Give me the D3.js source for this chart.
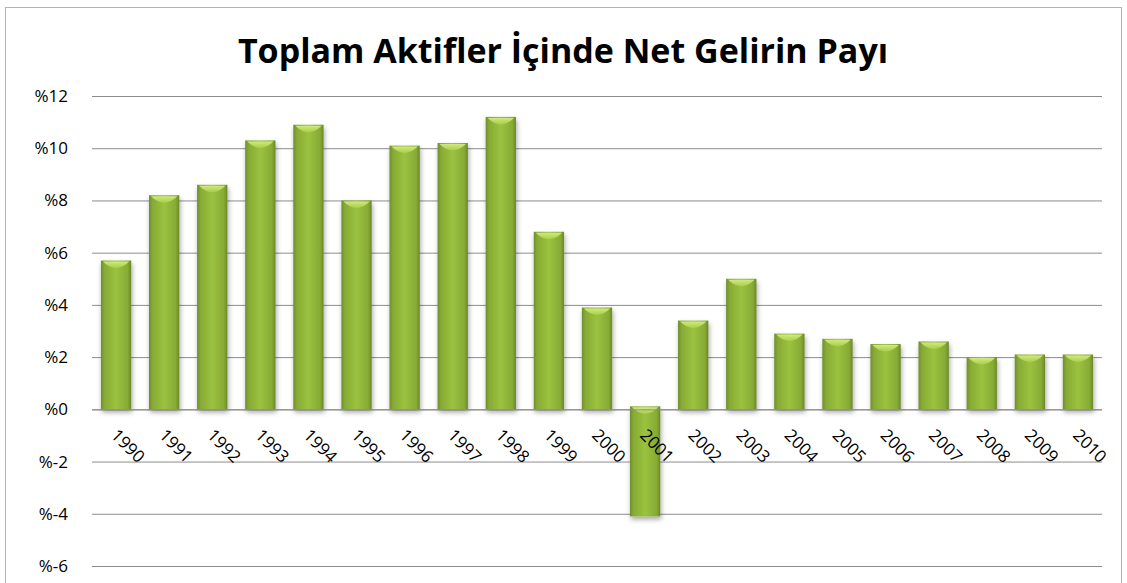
<!DOCTYPE html>
<html>
<head>
<meta charset="utf-8">
<script src="https://cdn.jsdelivr.net/npm/d3@7"></script>
<style>
  body { margin: 0; background: #fff; }
  svg { display: block; }
  .tick text { font-family: "Open Sans", sans-serif; }
</style>
</head>
<body>
<div id="chart"></div>
<script>
var years = ['1990','1991','1992','1993','1994','1995','1996','1997','1998','1999','2000',
             '2001','2002','2003','2004','2005','2006','2007','2008','2009','2010'];
var shares = [5.7, 8.2, 8.6, 10.3, 10.9, 8.0, 10.1, 10.2, 11.2, 6.8, 3.9,
              -4.1, 3.4, 5.0, 2.9, 2.7, 2.5, 2.6, 2.0, 2.1, 2.1];
var yTicks = [-6, -4, -2, 0, 2, 4, 6, 8, 10, 12];
var title = 'Toplam Aktifler İçinde Net Gelirin Payı';

var width = 1127, height = 583;
var margin = {top: 96, right: 25, bottom: 17, left: 92};

var svg = d3.select('#chart').append('svg')
  .attr('width', width)
  .attr('height', height);

// gradients for the bevelled bars
var defs = svg.append('defs');
var grad = defs.append('linearGradient').attr('id', 'barGrad')
  .attr('x1', '0%').attr('x2', '100%').attr('y1', '0%').attr('y2', '0%');
grad.append('stop').attr('offset', '0%').attr('stop-color', '#6f8e2c');
grad.append('stop').attr('offset', '12%').attr('stop-color', '#87ab35');
grad.append('stop').attr('offset', '50%').attr('stop-color', '#9bc23f');
grad.append('stop').attr('offset', '88%').attr('stop-color', '#87ab35');
grad.append('stop').attr('offset', '100%').attr('stop-color', '#6a8829');

var capGrad = defs.append('linearGradient').attr('id', 'capGrad')
  .attr('x1', '0%').attr('x2', '0%').attr('y1', '0%').attr('y2', '100%');
capGrad.append('stop').attr('offset', '0%').attr('stop-color', '#d6ef86');
capGrad.append('stop').attr('offset', '100%').attr('stop-color', '#a8d04a');

var shadow = defs.append('filter').attr('id', 'shadow')
  .attr('x', '-30%').attr('y', '-10%').attr('width', '160%').attr('height', '130%');
shadow.append('feDropShadow').attr('dx', 1).attr('dy', 3)
  .attr('stdDeviation', 2.5).attr('flood-color', '#000').attr('flood-opacity', 0.35);

// outer chart border
svg.append('rect')
  .attr('x', 5.5).attr('y', 7.5)
  .attr('width', 1116).attr('height', 590)
  .attr('fill', 'none')
  .attr('stroke', '#b3b3b3');

svg.append('text')
  .attr('x', 563).attr('y', 63)
  .attr('text-anchor', 'middle')
  .style('font-family', '"Open Sans", sans-serif')
  .style('font-weight', 'bold')
  .style('font-size', '34px')
  .text(title);

var x = d3.scaleBand()
  .domain(years)
  .range([margin.left, width - margin.right])
  .paddingInner(0.37)
  .paddingOuter(0.185);

var y = d3.scaleLinear()
  .domain([-6, 12])
  .range([566, margin.top]);

// gridlines
svg.append('g')
  .attr('transform', 'translate(' + margin.left + ',0)')
  .call(d3.axisLeft(y).tickValues(yTicks)
    .tickSize(-(width - margin.right - margin.left))
    .tickPadding(24)
    .tickFormat(function(d){ return '%' + d; }))
  .call(function(g){
    g.select('.domain').remove();
    g.selectAll('.tick line').attr('stroke', '#8c8c8c').attr('stroke-width', 1);
    g.selectAll('.tick text').attr('fill', '#000').style('font-size', '17px');
  });

// bars
var bars = svg.append('g').selectAll('g.bar')
  .data(shares)
  .join('g')
  .attr('class', 'bar');

bars.append('rect')
  .attr('x', function(d, i){ return x(years[i]); })
  .attr('y', function(d){ return d >= 0 ? y(d) : y(0) - 3; })
  .attr('width', x.bandwidth())
  .attr('height', function(d){ return d >= 0 ? y(0) - y(d) : y(d) - y(0) + 3; })
  .attr('fill', 'url(#barGrad)')
  .attr('filter', 'url(#shadow)');

// light bevel on the top of each bar
bars.append('path')
  .attr('d', function(d, i){
    var x0 = x(years[i]), w = x.bandwidth();
    var top = d >= 0 ? y(d) : y(0) - 3;
    return 'M' + (x0 + 2) + ',' + (top + 1) +
      ' L' + (x0 + w - 2) + ',' + (top + 1) +
      ' Q' + (x0 + w / 2) + ',' + (top + 14) + ' ' + (x0 + 2) + ',' + (top + 1) + 'Z';
  })
  .attr('fill', 'url(#capGrad)')
  .attr('opacity', 0.9);

// category labels, rotated
svg.append('g')
  .attr('transform', 'translate(0,' + y(0) + ')')
  .call(d3.axisBottom(x).tickSize(0).tickPadding(0))
  .call(function(g){
    g.select('.domain').attr('stroke', '#8c8c8c').attr('d', 'M' + margin.left + ',0.5H' + (width - margin.right));
    g.selectAll('.tick text')
      .attr('fill', '#000')
      .style('font-size', '17px')
      .attr('text-anchor', 'start')
      .attr('dy', 0)
      .attr('transform', 'translate(-6,27) rotate(45)');
  });
</script>
</body>
</html>
